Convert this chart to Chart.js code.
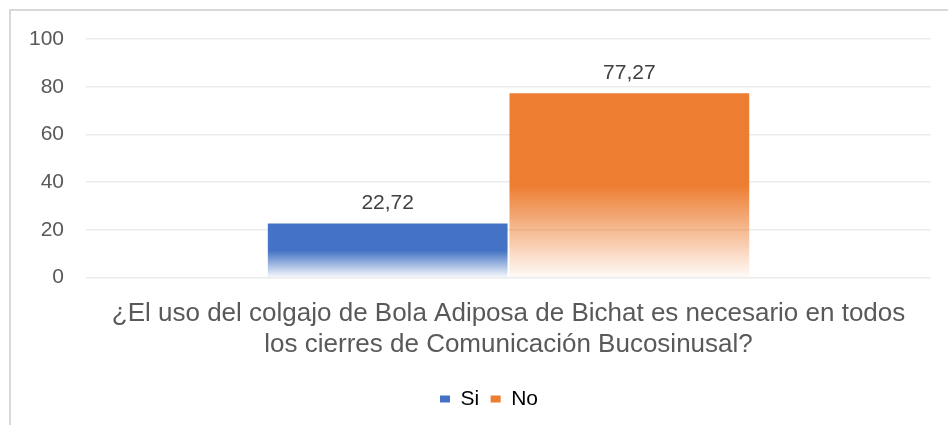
<!DOCTYPE html>
<html>
<head>
<meta charset="utf-8">
<script src="https://cdn.jsdelivr.net/npm/chart.js@4"></script>
<style>
  html, body { margin: 0; padding: 0; background: #fff; }
  #marco { position: absolute; left: 9px; top: 9px; width: 960px; height: 440px; border: 2px solid #d9d9d9; }
  #wrap { position: absolute; left: 0; top: 0; width: 948px; height: 425px; }
</style>
</head>
<body>
<div id="marco"></div>
<div id="wrap"><canvas id="grafico"></canvas></div>
<script>
// datos del gráfico
const categorias = [["¿El uso del colgajo de Bola Adiposa de Bichat es necesario en todos", "los cierres de Comunicación Bucosinusal?"]];
const series = ["Si", "No"];
const valoresSi = [22.72];
const valoresNo = [77.27];
const colores = ["#4472c4", "#ed7d31"];
const ejeY = [0, 20, 40, 60, 80, 100];

const fuente = "'Liberation Sans', Arial, sans-serif";

// degradado por barra: color sólido arriba, se aclara hacia la base
function degradado(color) {
  return ctx => {
    const chart = ctx.chart;
    const y = chart.scales.y;
    if (!y || ctx.raw == null) return color;
    const top = y.getPixelForValue(ctx.raw);
    const base = y.getPixelForValue(0);
    const g = chart.ctx.createLinearGradient(0, top, 0, base);
    g.addColorStop(0, color);
    g.addColorStop(0.5, color);
    g.addColorStop(1, color + "08");
    return g;
  };
}

// etiquetas con el valor encima de cada barra (coma decimal)
const etiquetas = {
  id: "etiquetas",
  afterLayout(chart) {
    // la leyenda del original está algo corrida a la derecha
    if (chart.legend) { chart.legend.left += 20; chart.legend.right += 20; }
  },
  afterDatasetsDraw(chart) {
    const c = chart.ctx;
    c.save();
    c.font = "21px " + fuente;
    c.fillStyle = "#404040";
    c.textAlign = "center";
    c.textBaseline = "middle";
    chart.data.datasets.forEach((ds, i) => {
      chart.getDatasetMeta(i).data.forEach((bar, j) => {
        c.fillText(ds.data[j].toFixed(2).replace(".", ","), bar.x, bar.y - 20);
      });
    });
    c.restore();
  }
};

new Chart(document.getElementById("grafico"), {
  type: "bar",
  data: {
    labels: categorias,
    datasets: [
      { label: series[0], data: valoresSi, backgroundColor: degradado(colores[0]) },
      { label: series[1], data: valoresNo, backgroundColor: degradado(colores[1]) }
    ]
  },
  options: {
    responsive: true,
    maintainAspectRatio: false,
    animation: false,
    layout: { padding: { left: 7, right: 17, top: 39, bottom: 5.5 } },
    datasets: { bar: { categoryPercentage: 0.572, barPercentage: 0.992 } },
    plugins: {
      legend: {
        position: "bottom",
        labels: {
          boxWidth: 10, boxHeight: 7, padding: 11.5,
          color: "#595959",
          font: { family: fuente, size: 21 },
          generateLabels: chart => chart.data.datasets.map((ds, i) => ({
            text: ds.label, fillStyle: colores[i], strokeStyle: colores[i], lineWidth: 0, datasetIndex: i
          }))
        }
      },
      tooltip: { enabled: false }
    },
    scales: {
      x: {
        grid: { display: false },
        border: { display: false },
        afterFit: s => { s.paddingLeft = 0; s.paddingRight = 0; s.height += 4; },
        ticks: {
          color: "#595959", padding: 13.5,
          font: { family: fuente, size: 26, lineHeight: 1.16 }
        }
      },
      y: {
        min: 0, max: 100,
        afterBuildTicks: axis => { axis.ticks = ejeY.map(v => ({ value: v })); },
        grid: { color: "#ebebeb", lineWidth: 1.5, drawTicks: false },
        border: { display: false },
        ticks: {
          color: "#595959", padding: 22,
          font: { family: fuente, size: 21 }
        }
      }
    }
  },
  plugins: [etiquetas]
});
</script>
</body>
</html>
